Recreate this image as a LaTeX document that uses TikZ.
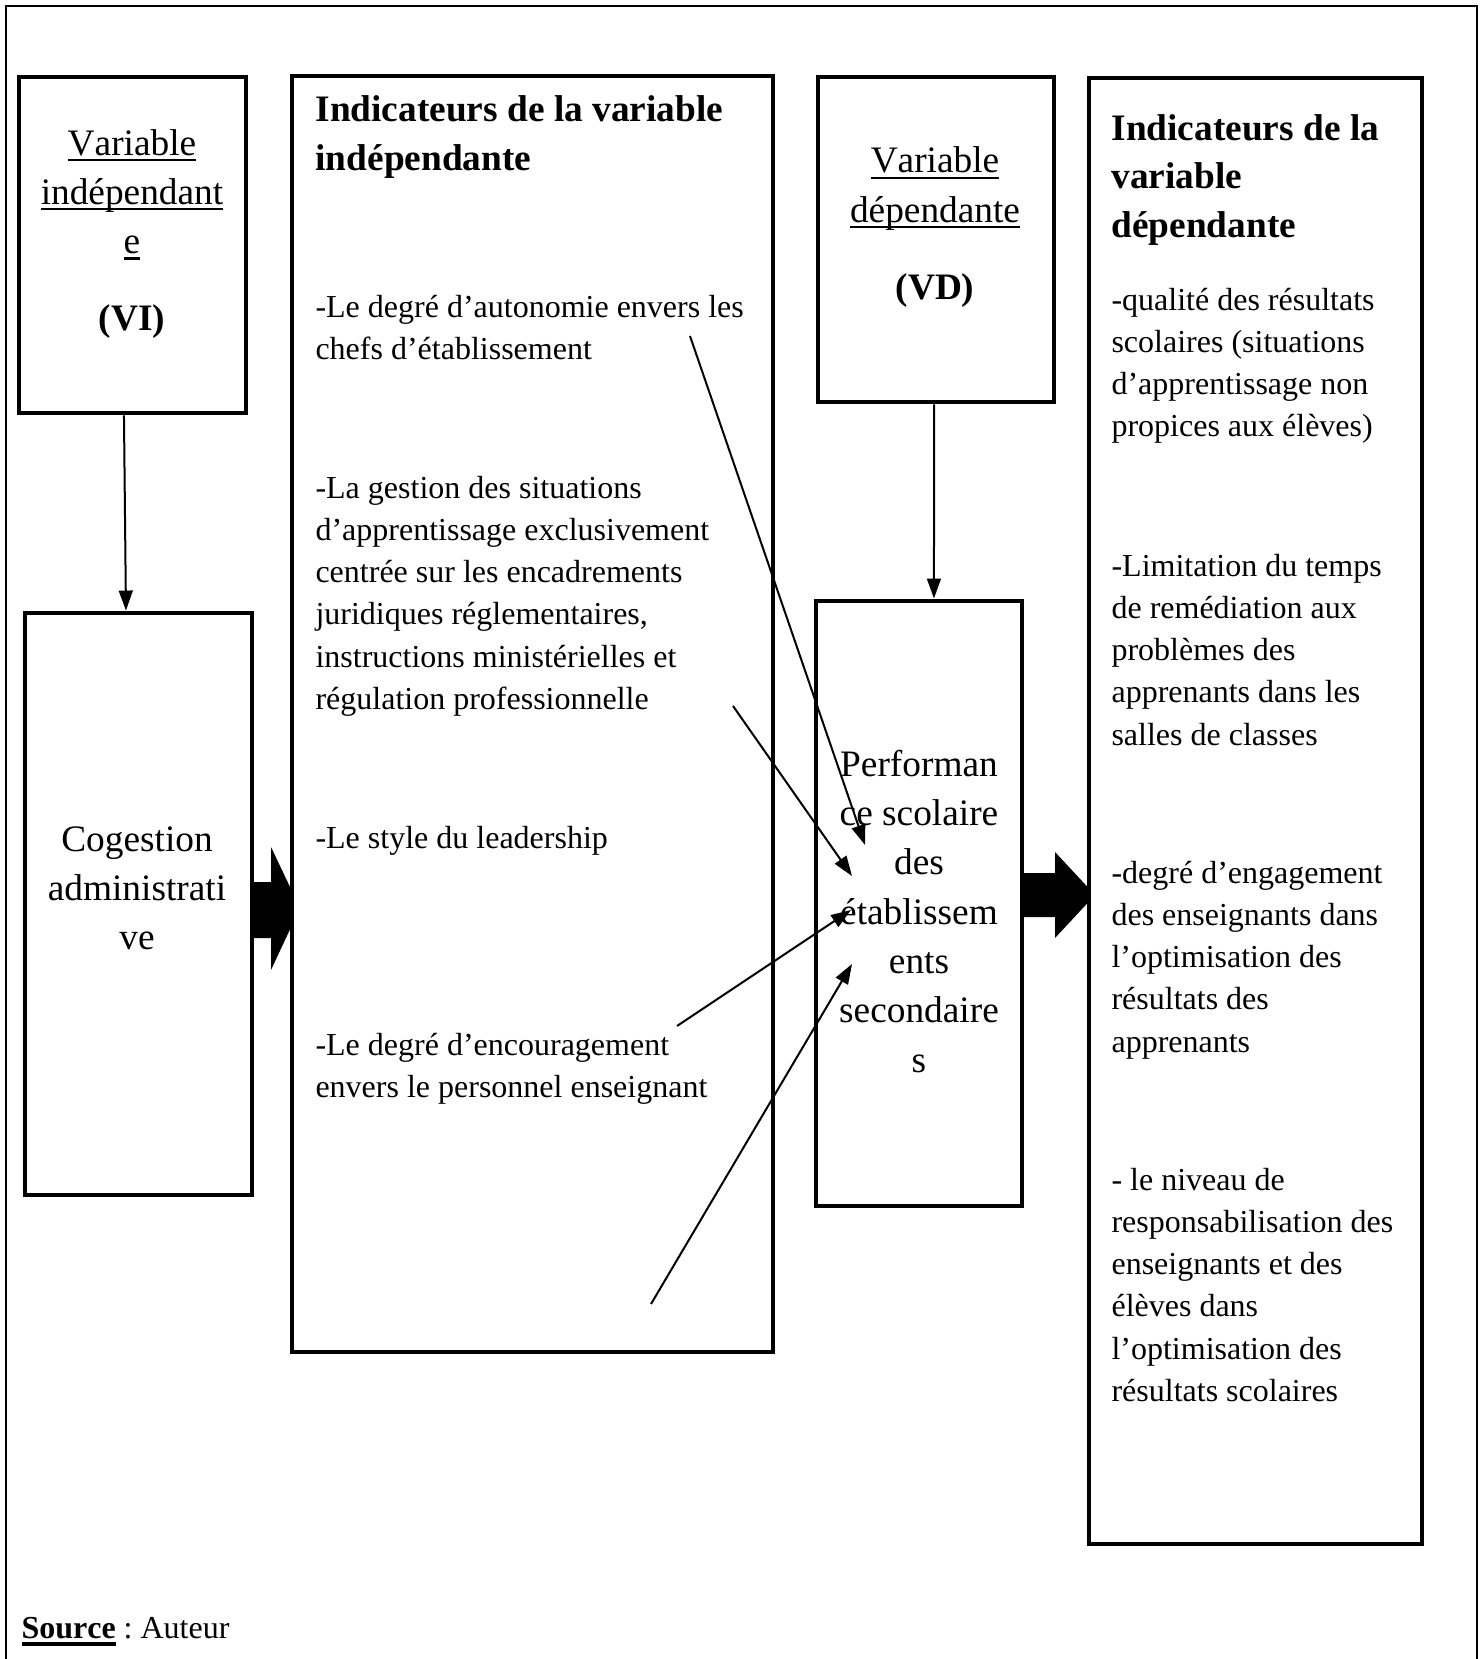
\documentclass[tikz,border=0pt]{standalone}
\usepackage{fontspec}
\setmainfont[Kerning=Off]{Liberation Serif}
\usetikzlibrary{arrows.meta,fit,backgrounds}
\frenchspacing
\newcommand{\myul}[1]{\setbox0=\hbox{#1}\leavevmode\rlap{\rule[-2.2pt]{\wd0}{0.8pt}}\box0\relax}
\newcommand{\myulb}[1]{\setbox0=\hbox{#1}\leavevmode\rlap{\rule[-3pt]{\wd0}{1.4pt}}\box0\relax}
\tikzset{
  box/.style={draw, line width=1.85pt, fill=white, inner sep=0pt},
  bodytxt/.style={anchor=base west, inner sep=0pt, text width=#1, align=flush left,
    font=\fontsize{12}{15.86}\selectfont},
  titletxt/.style={anchor=base west, inner sep=0pt, text width=#1, align=flush left,
    font=\fontsize{14}{18.3}\selectfont\bfseries},
  bigtxt/.style={anchor=base, inner sep=0pt, text width=85pt, align=flush center,
    font=\fontsize{14}{18.5}\selectfont},
  thinarrow/.style={line width=0.75pt, -{Triangle[length=7.5pt,width=5.2pt]}},
  blockarrow/.style={fill=black},
  frame/.style={line width=0.8pt}
}
\begin{document}
\begin{tikzpicture}[x=0.375pt,y=-0.375pt]
\useasboundingbox (0,0) rectangle (1483,1659);
\draw[frame] (6,1659) -- (6,6) -- (1477,6) -- (1477,1659);

% boxes
\node[box, fit={(19,77)(246,413)}] (vi) {};
\node[box, fit={(25,613)(252,1195)}] (cog) {};
\node[box, fit={(292,76)(773,1352)}] (indvi) {};
\node[box, fit={(818,77)(1054,402)}] (vd) {};
\node[box, fit={(816,601)(1022,1206)}] (perf) {};
\node[box, fit={(1089,78)(1422,1544)}] (indvd) {};

% block arrows (under boxes)
\begin{pgfonlayer}{background}
\fill[blockarrow] (247,882) -- (271,882) -- (271,847) -- (300,908) -- (271,970) -- (271,938) -- (247,938) -- cycle;
\fill[blockarrow] (1020,873) -- (1055,873) -- (1055,852) -- (1095,895) -- (1055,938) -- (1055,917) -- (1020,917) -- cycle;
\end{pgfonlayer}

% texts in VI box
\node[bigtxt] (vitxt) at (132,155) {\myul{Variable}\\ \myul{indépendant}\\ \myul{e}};
\node[bigtxt, font=\fontsize{14}{18.5}\selectfont\bfseries] (vilab) at (132,330) {(VI)};

% Cogestion
\node[bigtxt] (cogtxt) at (137,851) {Cogestion\\ administrati\\ ve};

% VD box
\node[bigtxt] (vdtxt) at (935,173) {\myul{Variable}\\ \myul{dépendante}};
\node[bigtxt, font=\fontsize{14}{18.5}\selectfont\bfseries] (vdlab) at (935,299) {(VD)};

% Performance
\node[bigtxt] (perftxt) at (919,776) {Performan\\ ce scolaire\\ des\\ établissem\\ ents\\ secondaire\\ s};

% indicators VI
\node[titletxt=185pt] (t1) at (315,122) {Indicateurs de la variable\\ indépendante};
\node[bodytxt=185pt] (p1) at (315,317) {-Le degré d’autonomie envers les\\ chefs d’établissement};
\node[bodytxt=185pt] (p2) at (315,498) {-La gestion des situations\\ d’apprentissage exclusivement\\ centrée sur les encadrements\\ juridiques réglementaires,\\ instructions ministérielles et\\ régulation professionnelle};
\node[bodytxt=185pt] (p3) at (315,848) {-Le style du leadership};
\node[bodytxt=185pt] (p4) at (315,1055) {-Le degré d’encouragement\\ envers le personnel enseignant};

% indicators VD
\node[titletxt=120pt] (t2) at (1111,140) {Indicateurs de la\\ variable\\ dépendante};
\node[bodytxt=120pt] (q1) at (1111,310) {-qualité des résultats\\ scolaires (situations\\ d’apprentissage non\\ propices aux élèves)};
\node[bodytxt=120pt] (q2) at (1111,576) {-Limitation du temps\\ de remédiation aux\\ problèmes des\\ apprenants dans les\\ salles de classes};
\node[bodytxt=120pt] (q3) at (1111,883) {-degré d’engagement\\ des enseignants dans\\ l’optimisation des\\ résultats des\\ apprenants};
\node[bodytxt=120pt] (q4) at (1111,1190) {- le niveau de\\ responsabilisation des\\ enseignants et des\\ élèves dans\\ l’optimisation des\\ résultats scolaires};

% source
\node[anchor=base west, inner sep=0pt, font=\fontsize{12}{14}\selectfont\frenchspacing] (src) at (21,1638) {\myulb{\textbf{Source}} : Auteur};

% vertical arrows
\draw[thinarrow] ([xshift=-3.2pt]vi.south) -- ([xshift=-4.7pt]cog.north);
\draw[thinarrow] ([xshift=-0.7pt]vd.south) -- ([xshift=5.6pt]perf.north);

% diagonal arrows
\coordinate (s1) at (690,336);
\coordinate (e1) at (865,845);
\coordinate (s2) at (733,706);
\coordinate (e2) at (852,876);
\coordinate (s3) at (677,1026);
\coordinate (e3) at (851,910);
\coordinate (s4) at (651,1304);
\coordinate (e4) at (852,964);
\draw[thinarrow] (s1) -- (e1);
\draw[thinarrow] (s2) -- (e2);
\draw[thinarrow] (s3) -- (e3);
\draw[thinarrow] (s4) -- (e4);
\end{tikzpicture}
\end{document}
